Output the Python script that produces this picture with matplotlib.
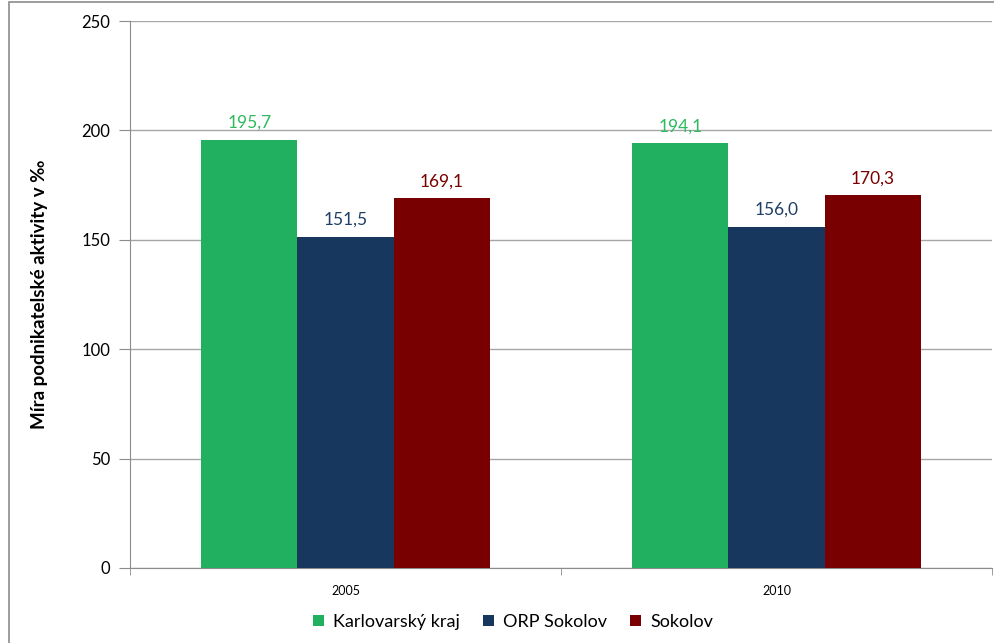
import numpy as np
import matplotlib.pyplot as plt
from matplotlib.patches import Rectangle

# data
years = ['2005', '2010']
series = ['Karlovarský kraj', 'ORP Sokolov', 'Sokolov']
karlovarsky = [195.7, 194.1]
orp_sokolov = [151.5, 156.0]
sokolov = [169.1, 170.3]

bar_colors = ['#21B05F', '#17375E', '#780000']
label_colors = ['#2EBA5E', '#1F3F66', '#7A0000']

plt.rcParams['font.family'] = ['Lato', 'DejaVu Sans']

fig = plt.figure(figsize=(9.94, 6.43), dpi=100)
ax = fig.add_axes([130 / 994, 75 / 643, 862 / 994, 547 / 643])

# chart area frame
fig.patches.append(Rectangle((9 / 994, -0.1), 1.2, (641 / 643) + 0.1, transform=fig.transFigure,
                             fill=False, edgecolor='#8C8C8C', linewidth=1.2, zorder=0))

x = np.arange(len(years))
width = 0.223
values = [karlovarsky, orp_sokolov, sokolov]
for i, vals in enumerate(values):
    pos = x + (i - 1) * width
    ax.bar(pos, vals, width, color=bar_colors[i], label=series[i], zorder=3)
    for p, v in zip(pos, vals):
        ax.text(p, v + 4, f'{v:.1f}'.replace('.', ','), ha='center', va='bottom',
                fontsize=12.5, color=label_colors[i])

ax.set_xlim(-0.5, 1.5)
ax.set_ylim(0, 250)
ax.set_yticks(range(0, 251, 50))
ax.yaxis.grid(True, color='#A6A6A6', linewidth=1, zorder=0)
ax.set_axisbelow(True)

ax.set_xticks(x)
ax.set_xticklabels(years, fontsize=9)
ax.set_xticks([-0.5, 0.5, 1.5], minor=True)
ax.tick_params(axis='x', which='major', length=0, pad=12)
ax.tick_params(axis='x', which='minor', length=5, color='#8C8C8C', direction='out')
ax.tick_params(axis='y', length=8, color='#8C8C8C', labelsize=12, pad=6)

for s in ['top', 'right']:
    ax.spines[s].set_visible(False)
for s in ['left', 'bottom']:
    ax.spines[s].set_color('#8C8C8C')

ax.set_ylabel('Míra podnikatelské aktivity v ‰', fontsize=13.5, fontweight='bold')
ax.yaxis.set_label_coords(-82 / 862, 0.5)

fig.legend(*ax.get_legend_handles_labels(), loc='center', bbox_to_anchor=(513 / 994, 21 / 643), ncol=3,
           frameon=False, fontsize=13, handlelength=0.6, handleheight=0.6, handletextpad=0.5,
           columnspacing=1.3)

fig.savefig('out.png', dpi=100)
